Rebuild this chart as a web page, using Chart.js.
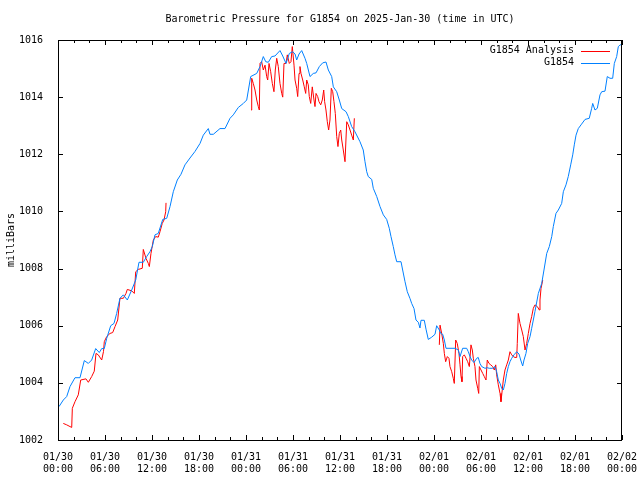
<!DOCTYPE html>
<html>
<head>
<meta charset="utf-8">
<script src="https://cdn.jsdelivr.net/npm/chart.js@4/dist/chart.umd.min.js"></script>
<style>
  html, body { margin: 0; padding: 0; background: #fff; }
  #c { display: block; }
</style>
</head>
<body>
<canvas id="c" width="640" height="480"></canvas>
<script>
// ---- Data (hours since 2025-01-30 00:00 UTC, pressure in millibars) ----
const chartTitle = 'Barometric Pressure for G1854 on 2025-Jan-30 (time in UTC)';
const yAxisLabel = 'milliBars';
const seriesNames = ['G1854 Analysis', 'G1854'];

const tickHours = [0, 6, 12, 18, 24, 30, 36, 42, 48, 54, 60, 66, 72];
const tickDates = ['01/30','01/30','01/30','01/30','01/31','01/31','01/31','01/31','02/01','02/01','02/01','02/01','02/02'];
const tickTimes = ['00:00','06:00','12:00','18:00','00:00','06:00','12:00','18:00','00:00','06:00','12:00','18:00','00:00'];
const pressureTicks = [1002, 1004, 1006, 1008, 1010, 1012, 1014, 1016];

const analysisHours = [
  0.68, 1.11, 1.53, 1.75, 1.83, 2.17, 2.59, 2.90, 3.57, 3.87, 4.30, 4.63, 4.85, 5.14, 5.58, 5.81, 5.91,
  6.22, 6.64, 6.98, 7.28, 7.62, 7.91, 8.34, 8.68, 8.85, 9.41, 9.74, 9.92, 10.25, 10.76, 10.89, 11.23,
  11.53, 11.66, 11.87, 12.17, 12.47, 12.80, 13.02, 13.31, 13.53, 13.75, 13.79,
  19.0,
  24.64, 24.73, 24.93, 25.15, 25.37, 25.57, 25.70, 25.79, 26.00, 26.21, 26.43, 26.64, 26.77, 26.94,
  27.15, 27.36, 27.57, 27.74, 27.92, 28.12, 28.34, 28.56, 28.69, 28.85, 29.11, 29.27, 29.53, 29.74,
  29.91, 30.13, 30.26, 30.47, 30.60, 30.77, 30.89, 31.02, 31.24, 31.44, 31.62, 31.75, 31.95, 32.08,
  32.26, 32.46, 32.68, 32.81, 32.94, 33.15, 33.32, 33.54, 33.74, 33.92, 34.04, 34.21, 34.38, 34.55,
  34.72, 34.89, 35.07, 35.23, 35.40, 35.58, 35.74, 35.91, 36.09, 36.22, 36.42, 36.64, 36.86, 37.06,
  37.28, 37.49, 37.70, 37.83,
  43.0,
  48.68, 48.77, 48.98, 49.19, 49.32, 49.49, 49.70, 49.91, 50.04, 50.26, 50.46, 50.59, 50.77, 50.97,
  51.19, 51.32, 51.45, 51.57, 51.66, 51.87, 52.09, 52.30, 52.51, 52.72, 52.89, 53.02, 53.23, 53.36,
  53.58, 53.71, 53.79, 54.00, 54.22, 54.42, 54.64, 54.80, 55.02, 55.24, 55.49, 55.70, 55.88, 56.00,
  56.21, 56.43, 56.55, 56.85, 57.06, 57.28, 57.49, 57.70, 57.92, 58.12, 58.34, 58.56, 58.63, 58.76,
  58.98, 59.20, 59.40, 59.62, 59.83, 60.04, 60.26, 60.47, 60.68, 60.89, 61.19, 61.45, 61.53, 61.66, 61.88
];
const analysisMbar = [
  1002.58, 1002.53, 1002.47, 1002.44, 1003.11, 1003.34, 1003.58, 1004.10, 1004.14, 1004.02, 1004.22, 1004.41, 1005.03, 1004.98, 1004.80, 1005.10, 1005.44,
  1005.62, 1005.73, 1005.76, 1005.97, 1006.20, 1006.96, 1006.96, 1007.13, 1007.27, 1007.22, 1007.13, 1007.89, 1007.97, 1008.01, 1008.67, 1008.36,
  1008.18, 1008.07, 1008.53, 1009.00, 1009.12, 1009.10, 1009.29, 1009.58, 1009.70, 1009.99, 1010.30,
  null,
  1013.55, 1014.66, 1014.48, 1014.25, 1013.90, 1013.67, 1013.55, 1015.18, 1015.24, 1014.95, 1015.12, 1014.72, 1014.60, 1015.18,
  1014.89, 1014.48, 1014.19, 1014.95, 1015.36, 1015.07, 1014.48, 1014.13, 1014.00, 1015.18, 1015.18, 1015.48, 1015.18, 1015.24,
  1015.77, 1015.12, 1014.60, 1014.31, 1014.02, 1014.83, 1015.07, 1014.83, 1014.60, 1014.36, 1014.13, 1014.60, 1014.43, 1014.02,
  1013.78, 1014.36, 1013.90, 1013.67, 1014.13, 1014.02, 1013.84, 1013.73, 1013.90, 1014.25, 1013.84, 1013.55, 1013.14, 1012.85,
  1013.20, 1014.31, 1014.19, 1013.84, 1013.43, 1012.62, 1012.27, 1012.73, 1012.85, 1012.50, 1012.15, 1011.74, 1013.14, 1013.03,
  1012.85, 1012.67, 1012.50, 1013.26,
  null,
  1005.33, 1006.02, 1005.73, 1005.38, 1005.03, 1004.74, 1004.92, 1004.86, 1004.57, 1004.39, 1004.16, 1003.98, 1005.50, 1005.38,
  1005.03, 1004.63, 1004.22, 1004.04, 1004.92, 1004.98, 1004.86, 1004.74, 1004.57, 1005.33, 1005.15, 1004.86, 1004.57, 1004.10,
  1003.81, 1003.63, 1004.57, 1004.45, 1004.33, 1004.22, 1004.10, 1004.80, 1004.68, 1004.63, 1004.57, 1004.45, 1004.63, 1004.28,
  1003.93, 1003.63, 1003.34, 1004.10, 1004.45, 1004.63, 1004.80, 1005.09, 1004.98, 1004.92, 1004.89, 1004.89, 1005.38, 1006.43,
  1006.08, 1005.85, 1005.62, 1005.15, 1005.38, 1005.73, 1006.08, 1006.32, 1006.61, 1006.73, 1006.67, 1006.55, 1006.90, 1007.30, 1007.60
];

const stationHours = [
  0.13, 0.68, 1.11, 1.53, 2.17, 2.81, 3.36, 3.87, 4.30, 4.81, 5.27, 5.58, 5.91, 6.22, 6.73, 7.15, 7.49,
  7.91, 8.34, 8.85, 9.41, 9.92, 10.34, 10.89, 11.32, 11.74, 12.04, 12.38, 12.80, 13.37, 13.88, 14.30,
  14.72, 15.23, 15.70, 16.21, 16.85, 17.49, 18.13, 18.55, 19.19, 19.40, 19.83, 20.68, 21.32, 21.96,
  22.38, 23.02, 23.66, 24.09, 24.60, 25.37, 25.79, 26.21, 26.52, 26.85, 27.28, 27.70, 28.34, 28.69,
  29.11, 29.53, 29.96, 30.26, 30.47, 30.77, 31.11, 31.53, 31.75, 32.17, 32.59, 32.94, 33.36, 33.79,
  34.21, 34.51, 34.94, 35.15, 35.58, 35.91, 36.22, 36.77, 37.06, 37.49, 37.91, 38.55, 38.97, 39.19,
  39.41, 39.61, 40.05, 40.25, 40.69, 41.11, 41.53, 41.96, 42.29, 42.51, 42.80, 43.02, 43.24, 43.79,
  44.00, 44.30, 44.59, 44.94, 45.15, 45.45, 45.70, 46.00, 46.21, 46.34, 46.76, 46.98, 47.27, 47.71,
  48.13, 48.34, 48.68, 48.86, 49.11, 49.32, 49.53, 50.68, 51.10, 51.32, 51.66, 52.17, 52.38, 52.60,
  52.81, 53.11, 53.45, 53.65, 53.87, 54.09, 54.51, 54.80, 55.06, 55.49, 55.79, 56.00, 56.21, 56.43,
  56.64, 56.85, 57.06, 57.28, 57.49, 57.70, 57.92, 58.21, 58.56, 58.85, 59.07, 59.32, 59.49, 59.74,
  59.96, 60.26, 60.47, 60.68, 60.89, 61.32, 61.75, 62.04, 62.39, 62.72, 63.03, 63.23, 63.57, 63.87,
  64.30, 64.51, 64.85, 65.14, 65.45, 65.71, 65.91, 66.13, 66.42, 66.77, 67.28, 67.82, 68.13, 68.26,
  68.55, 68.85, 69.19, 69.41, 69.83, 70.12, 70.47, 70.81, 71.02, 71.32, 71.53, 71.74, 71.94
];
const stationMbar = [
  1003.17, 1003.40, 1003.52, 1003.87, 1004.18, 1004.18, 1004.78, 1004.68, 1004.80, 1005.20, 1005.06, 1005.20, 1005.20, 1005.56, 1006.00, 1006.08, 1006.43,
  1006.96, 1007.08, 1006.90, 1007.25, 1007.60, 1008.22, 1008.22, 1008.42, 1008.59, 1008.77, 1009.18, 1009.23, 1009.72, 1009.76, 1010.17,
  1010.69, 1011.10, 1011.30, 1011.63, 1011.87, 1012.10, 1012.38, 1012.67, 1012.90, 1012.70, 1012.70, 1012.90, 1012.90, 1013.26,
  1013.38, 1013.64, 1013.78, 1013.90, 1014.72, 1014.83, 1015.07, 1015.42, 1015.24, 1015.22, 1015.42, 1015.44, 1015.63, 1015.44,
  1015.18, 1015.53, 1015.59, 1015.51, 1015.30, 1015.51, 1015.63, 1015.36, 1015.18, 1014.72, 1014.83, 1014.85, 1015.07, 1015.20,
  1015.23, 1014.95, 1014.72, 1014.36, 1014.19, 1013.90, 1013.60, 1013.49, 1013.32, 1012.97, 1012.79, 1012.44, 1012.15, 1011.74,
  1011.39, 1011.22, 1011.12, 1010.81, 1010.52, 1010.17, 1009.88, 1009.72, 1009.41, 1009.12, 1008.77, 1008.48, 1008.24, 1008.24,
  1007.95, 1007.54, 1007.19, 1006.95, 1006.78, 1006.60, 1006.20, 1006.12, 1005.92, 1006.19, 1006.19, 1005.88, 1005.52, 1005.60,
  1005.70, 1006.00, 1005.85, 1005.73, 1005.70, 1005.50, 1005.21, 1005.21, 1005.15, 1004.92, 1005.21, 1005.21, 1005.09, 1004.92,
  1004.80, 1004.71, 1004.86, 1004.89, 1004.68, 1004.57, 1004.51, 1004.53, 1004.51, 1004.51, 1004.57, 1004.39, 1004.10, 1003.98,
  1003.81, 1003.75, 1003.98, 1004.33, 1004.57, 1004.74, 1004.86, 1004.98, 1005.09, 1005.01, 1004.80, 1004.59, 1004.80, 1005.03,
  1005.38, 1005.62, 1005.91, 1006.20, 1006.50, 1007.13, 1007.48, 1007.95, 1008.53, 1008.77, 1009.12, 1009.47, 1009.93, 1010.05,
  1010.28, 1010.69, 1010.93, 1011.22, 1011.63, 1011.98, 1012.33, 1012.67, 1012.90, 1013.03, 1013.22, 1013.26, 1013.61, 1013.78,
  1013.55, 1013.61, 1014.08, 1014.19, 1014.21, 1014.72, 1014.66, 1014.66, 1015.18, 1015.42, 1015.77, 1015.82, 1015.85
];

// ---- Chart ----
const toPoints = (xs, ys) => xs.map((h, i) => ({ x: h, y: ys[i] }));

Chart.defaults.font.family = '"DejaVu Sans Mono", "Liberation Mono", monospace';
Chart.defaults.font.size = 10;
Chart.defaults.color = '#000';

// gnuplot-style frame with inward ticks on all four sides
const framePlugin = {
  id: 'frame',
  afterDatasetsDraw(chart) {
    const { ctx, chartArea: a, scales: { x, y } } = chart;
    ctx.save();
    ctx.strokeStyle = '#000';
    ctx.lineWidth = 1;
    ctx.beginPath();
    const minorStep = (tickHours[1] - tickHours[0]) / 3;
    for (let h = tickHours[0]; h <= tickHours[tickHours.length - 1] + 1e-6; h += minorStep) {
      const isMajor = tickHours.some(t => Math.abs(t - h) < 1e-6);
      const len = isMajor ? 5 : 3;
      const px = Math.round(x.getPixelForValue(h)) + 0.5;
      ctx.moveTo(px, a.bottom); ctx.lineTo(px, a.bottom - len);
      ctx.moveTo(px, a.top); ctx.lineTo(px, a.top + len);
    }
    pressureTicks.forEach(v => {
      const py = Math.round(y.getPixelForValue(v)) + 0.5;
      ctx.moveTo(a.left, py); ctx.lineTo(a.left + 5, py);
      ctx.moveTo(a.right, py); ctx.lineTo(a.right - 5, py);
    });
    ctx.stroke();
    ctx.strokeRect(Math.round(a.left) + 0.5, Math.round(a.top) + 0.5,
                   Math.round(a.right - a.left) - 1, Math.round(a.bottom - a.top));
    ctx.restore();
  }
};

// gnuplot-style key: text right-aligned, line sample to its right
const keyPlugin = {
  id: 'key',
  afterDraw(chart) {
    const { ctx, chartArea: a } = chart;
    ctx.save();
    ctx.font = '10px "DejaVu Sans Mono", "Liberation Mono", monospace';
    ctx.textAlign = 'right';
    ctx.textBaseline = 'middle';
    ctx.fillStyle = '#000';
    const order = [1, 0]; // dataset indices in key order
    order.forEach((di, row) => {
      const ds = chart.data.datasets[di];
      const yy = a.top + 10.5 + row * 12;
      ctx.fillText(ds.label, a.right - 48, yy);
      ctx.strokeStyle = ds.borderColor;
      ctx.lineWidth = 1;
      ctx.beginPath();
      ctx.moveTo(a.right - 41, Math.round(yy) + 0.5);
      ctx.lineTo(a.right - 12, Math.round(yy) + 0.5);
      ctx.stroke();
    });
    ctx.restore();
  }
};

new Chart(document.getElementById('c'), {
  type: 'line',
  data: {
    datasets: [
      {
        label: seriesNames[1],
        data: toPoints(stationHours, stationMbar),
        borderColor: '#0080ff',
        borderWidth: 1,
        pointRadius: 0,
        tension: 0,
        order: 0
      },
      {
        label: seriesNames[0],
        data: toPoints(analysisHours, analysisMbar),
        borderColor: '#ff0000',
        borderWidth: 1,
        pointRadius: 0,
        tension: 0,
        spanGaps: false,
        order: 1
      }
    ]
  },
  options: {
    responsive: false,
    animation: false,
    events: [],
    layout: { padding: { left: 0, right: 18, top: 0, bottom: 0 } },
    plugins: {
      legend: { display: false },
      tooltip: { enabled: false },
      title: {
        display: true,
        text: chartTitle,
        fullSize: false,
        font: { size: 10, weight: 'normal', lineHeight: 1.2 },
        color: '#000',
        padding: { top: 13.5, bottom: 14.5 }
      }
    },
    scales: {
      x: {
        type: 'linear',
        min: tickHours[0],
        max: tickHours[tickHours.length - 1],
        grid: { display: false },
        border: { display: false },
        afterBuildTicks: (s) => { s.ticks = tickHours.map(v => ({ value: v })); },
        afterFit: (s) => { s.height = 40; s.paddingLeft = 0; s.paddingRight = 0; },
        ticks: {
          autoSkip: false,
          maxRotation: 0,
          padding: 3,
          font: { size: 10, lineHeight: 1.2 },
          callback: (v) => {
            const i = tickHours.indexOf(v);
            return i >= 0 ? [tickDates[i], tickTimes[i]] : '';
          }
        }
      },
      y: {
        type: 'linear',
        min: pressureTicks[0],
        max: pressureTicks[pressureTicks.length - 1],
        grid: { display: false },
        border: { display: false },
        afterBuildTicks: (s) => { s.ticks = pressureTicks.map(v => ({ value: v })); },
        afterFit: (s) => { s.width = 58; },
        ticks: { padding: 7, font: { size: 10 }, callback: (v) => String(v) },
        title: {
          display: true,
          text: yAxisLabel,
          font: { size: 10, lineHeight: 1.2 },
          padding: { top: 5.5, bottom: 0 }
        }
      }
    }
  },
  plugins: [framePlugin, keyPlugin]
});
</script>
</body>
</html>
